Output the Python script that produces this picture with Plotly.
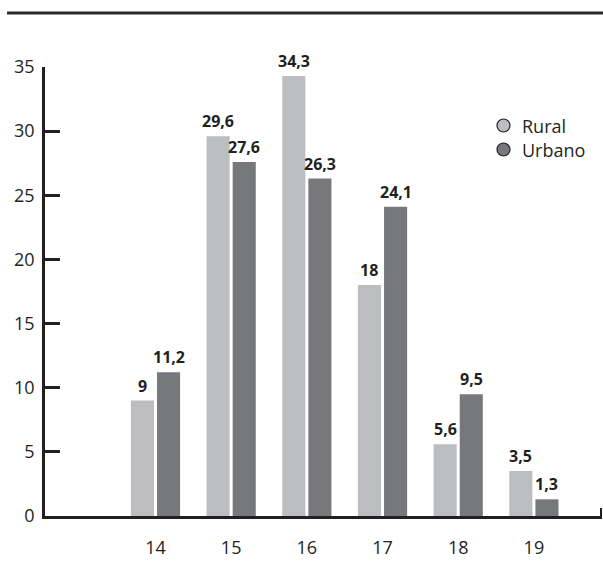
import plotly.graph_objects as go

ages = ["14", "15", "16", "17", "18", "19"]
age_pos = [14, 15, 16, 17, 18, 19]
rural = [9, 29.6, 34.3, 18, 5.6, 3.5]
urbano = [11.2, 27.6, 26.3, 24.1, 9.5, 1.3]
rural_labels = ["9", "29,6", "34,3", "18", "5,6", "3,5"]
urbano_labels = ["11,2", "27,6", "26,3", "24,1", "9,5", "1,3"]
series_names = ["Rural", "Urbano"]

C_RURAL = "#bcbdc1"
C_URB = "#77787c"
INK = "#231f20"
FONT = "Open Sans"

PL, PR, PT, PB = 45, 602, 67, 516


def px(x):
    return (x - PL) / (PR - PL)


def py(y):
    return 1 - (y - PT) / (PB - PT)


W = 0.305
fig = go.Figure()
fig.add_trace(go.Bar(x=age_pos, y=rural, width=W, offset=-0.325, marker_color=C_RURAL,
                     marker_line_width=0, showlegend=False, name=series_names[0]))
fig.add_trace(go.Bar(x=age_pos, y=urbano, width=W, offset=0.02, marker_color=C_URB,
                     marker_line_width=0, showlegend=False, name=series_names[1]))

anns = []
for xp, v, t in zip(age_pos, rural, rural_labels):
    anns.append(dict(x=xp - 0.325 + W / 2, y=v, text="<b>%s</b>" % t, showarrow=False,
                     yanchor="bottom", yshift=2, font=dict(size=16, color=INK, family=FONT)))
for xp, v, t in zip(age_pos, urbano, urbano_labels):
    anns.append(dict(x=xp + 0.02 + W / 2, y=v, text="<b>%s</b>" % t, showarrow=False,
                     yanchor="bottom", yshift=2, font=dict(size=16, color=INK, family=FONT)))

shapes = [
    dict(type="line", xref="paper", yref="paper", x0=px(7), x1=px(604), y0=py(13), y1=py(13),
         line=dict(color="#2a2a2a", width=3)),
    dict(type="line", xref="paper", yref="paper", x0=px(601), x1=px(601), y0=0, y1=py(508),
         line=dict(color=INK, width=2)),
]
# manual legend
for name, col, cy in zip(series_names, [C_RURAL, C_URB], [125.5, 149.5]):
    shapes.append(dict(type="circle", xref="paper", yref="paper", xsizemode="pixel", ysizemode="pixel",
                       xanchor=px(503.5), yanchor=py(cy), x0=-6.5, x1=6.5, y0=-6.5, y1=6.5,
                       fillcolor=col, line=dict(color=INK, width=1.2)))
    anns.append(dict(xref="paper", yref="paper", x=px(520), y=py(cy), text=name, showarrow=False,
                     xanchor="left", yanchor="middle", font=dict(size=18, color=INK, family=FONT)))

fig.update_layout(
    width=603, height=578,
    margin=dict(l=PL, r=603 - PR, t=PT, b=578 - PB),
    plot_bgcolor="white", paper_bgcolor="white",
    barmode="overlay",
    showlegend=False,
    font=dict(family=FONT, size=18, color=INK),
    annotations=anns,
    shapes=shapes,
)
fig.update_xaxes(range=[12.54, 19.9], tickvals=age_pos, ticktext=ages, showgrid=False,
                 showline=True, linecolor=INK, linewidth=2.5, ticks="", zeroline=False,
                 ticklabelstandoff=14, tickfont=dict(size=18, color=INK, family=FONT))
fig.update_yaxes(range=[0, 35], tickvals=[0, 5, 10, 15, 20, 25, 30, 35], showgrid=False,
                 showline=True, linecolor=INK, linewidth=2.5, ticks="inside", ticklen=15,
                 tickwidth=2.5, tickcolor=INK, zeroline=False, ticklabelstandoff=4,
                 tickfont=dict(size=18, color=INK, family=FONT))

fig.write_html("out.html")
